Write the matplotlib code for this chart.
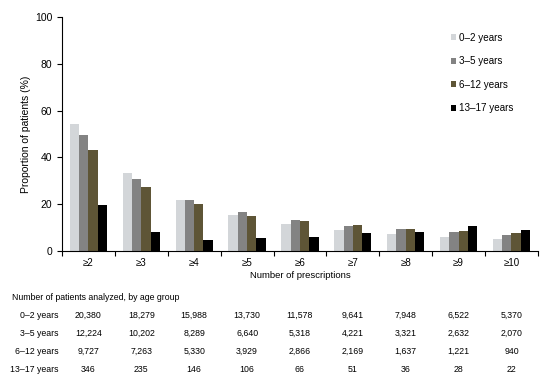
import numpy as np
import matplotlib.pyplot as plt
from matplotlib.transforms import blended_transform_factory

plt.rcParams['font.family'] = ['Liberation Sans', 'DejaVu Sans']

# Data
categories = ['≥2', '≥3', '≥4', '≥5', '≥6', '≥7', '≥8', '≥9', '≥10']
age_groups = ['0–2 years', '3–5 years', '6–12 years', '13–17 years']
pct_0_2 = [54.5, 33.2, 21.8, 15.6, 11.7, 9.0, 7.3, 5.8, 5.0]
pct_3_5 = [49.8, 30.8, 22.0, 16.5, 13.3, 10.6, 9.3, 8.1, 7.0]
pct_6_12 = [43.1, 27.2, 20.1, 15.0, 12.7, 11.1, 9.3, 8.6, 7.6]
pct_13_17 = [19.8, 8.0, 4.7, 5.6, 6.0, 7.7, 8.1, 10.6, 9.0]
n_0_2 = ['20,380', '18,279', '15,988', '13,730', '11,578', '9,641', '7,948', '6,522', '5,370']
n_3_5 = ['12,224', '10,202', '8,289', '6,640', '5,318', '4,221', '3,321', '2,632', '2,070']
n_6_12 = ['9,727', '7,263', '5,330', '3,929', '2,866', '2,169', '1,637', '1,221', '940']
n_13_17 = ['346', '235', '146', '106', '66', '51', '36', '28', '22']

series = [pct_0_2, pct_3_5, pct_6_12, pct_13_17]
counts = [n_0_2, n_3_5, n_6_12, n_13_17]
colors = ['#d3d6d9', '#838383', '#5e5536', '#000000']

fig = plt.figure(figsize=(5.5, 3.8), dpi=100)
ax = fig.add_axes([0.1127, 0.3395, 0.8653, 0.6155])

x = np.arange(len(categories))
w = 0.176
for i, (vals, c, lab) in enumerate(zip(series, colors, age_groups)):
    ax.bar(x + (i - 1.5) * w, vals, width=w, color=c, label=lab, linewidth=0)

ax.set_xlim(-0.5, len(categories) - 0.5)
ax.set_ylim(0, 100)
ax.set_yticks(range(0, 101, 20))
ax.set_xticks(x)
ax.set_xticklabels(categories)
ax.set_xticks(np.arange(-0.5, len(categories)), minor=True)
ax.tick_params(axis='x', which='major', length=0, labelsize=7, pad=5)
ax.tick_params(axis='x', which='minor', length=3.5, direction='out', width=0.8)
ax.tick_params(axis='y', length=3.5, width=0.8, labelsize=7.5)
for s in ['top', 'right']:
    ax.spines[s].set_visible(False)
for s in ['left', 'bottom']:
    ax.spines[s].set_linewidth(0.8)

ax.set_ylabel('Proportion of patients (%)', fontsize=7.5, labelpad=3)
ax.set_xlabel('Number of prescriptions', fontsize=6.8, labelpad=2)

leg = ax.legend(loc='upper left', bbox_to_anchor=(0.81, 0.95), frameon=False,
                fontsize=7.1, handlelength=0.5, handleheight=0.5,
                handletextpad=0.3, labelspacing=1.37, borderaxespad=0)

# Table of patient counts
trans = blended_transform_factory(ax.transData, fig.transFigure)
fig.text(12 / 550, 1 - 297 / 380, 'Number of patients analyzed, by age group',
         fontsize=6.3, va='center', ha='left')
row_y = [315, 333, 351, 369]
for lab, row, yy in zip(age_groups, counts, row_y):
    fy = 1 - yy / 380
    fig.text(59 / 550, fy, lab, fontsize=6.3, va='center', ha='right')
    for xi, val in zip(x, row):
        fig.text(xi, fy, val, fontsize=6.3, va='center', ha='center', transform=trans)

fig.savefig('out.png', dpi=100)
